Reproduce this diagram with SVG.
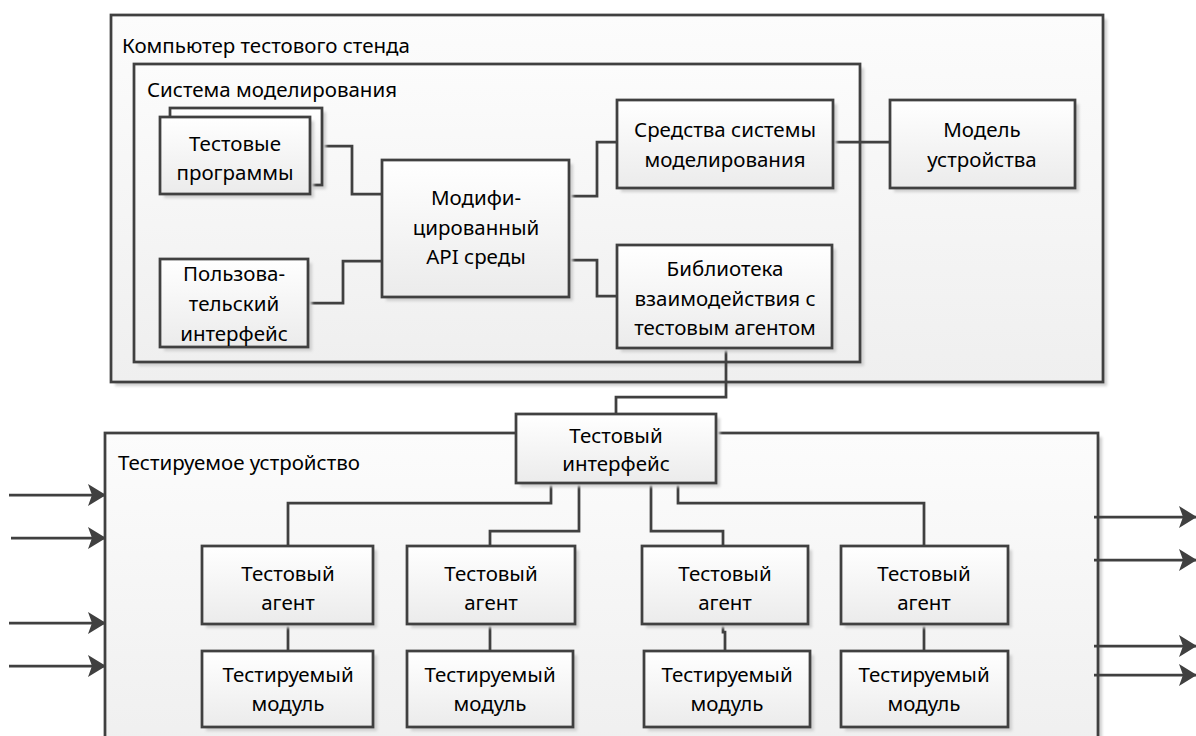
<svg xmlns="http://www.w3.org/2000/svg" width="1196" height="736" viewBox="0 0 1196 736">
  <style>
    .frame { fill: url(#frameFill); stroke: #404040; stroke-width: 2.75; }
    .node { fill: url(#nodeFill); stroke: #404040; stroke-width: 2.75; }
    .shadow { fill: #cfcfcf; filter: url(#soft); }
    .wire { fill: none; stroke: #404040; stroke-width: 2.75; }
    .arrow { fill: none; stroke: #404040; stroke-width: 2.75; marker-end: url(#head); }
    text { font-family: "Noto Sans", "Open Sans", sans-serif; font-size: 20.5px; fill: #000; }
    .c { text-anchor: middle; }
  </style>
  <defs>
    <linearGradient id="frameFill" x1="0" y1="0" x2="0" y2="1">
      <stop offset="0" stop-color="#fcfcfc"/>
      <stop offset="1" stop-color="#efefef"/>
    </linearGradient>
    <linearGradient id="nodeFill" x1="0" y1="0" x2="0" y2="1">
      <stop offset="0" stop-color="#ffffff"/>
      <stop offset="1" stop-color="#ebebeb"/>
    </linearGradient>
    <filter id="soft" x="-10%" y="-10%" width="120%" height="120%">
      <feGaussianBlur stdDeviation="1.5"/>
    </filter>
    <marker id="head" markerWidth="18" markerHeight="22" refX="17" refY="11" orient="auto" markerUnits="userSpaceOnUse">
      <path d="M0,0 L18,11 L0,22 L4,11 Z" fill="#404040"/>
    </marker>
  </defs>

  <!-- Host computer frame -->
  <g id="host">
    <rect class="shadow" x="115" y="19" width="992" height="367"/>
    <rect class="frame" x="111" y="15" width="992" height="367"/>
    <text x="122" y="53">Компьютер тестового стенда</text>
  </g>

  <!-- Simulation system frame -->
  <g id="sim">
    <rect class="shadow" x="138" y="68" width="726" height="298"/>
    <rect class="frame" x="134" y="64" width="726" height="298"/>
    <text x="147" y="97">Система моделирования</text>
  </g>

  <!-- Device under test frame -->
  <g id="dut">
    <rect class="shadow" x="109" y="437" width="993" height="320"/>
    <rect class="frame" x="105" y="433" width="993" height="320"/>
    <text x="118" y="470">Тестируемое устройство</text>
  </g>

  <!-- Connectors -->
  <g id="connectors">
    <path class="wire" d="M310,146 H352 V194 H382"/>
    <path class="wire" d="M308,303 H343 V261 H382"/>
    <path class="wire" d="M569,196 H597 V142 H617"/>
    <path class="wire" d="M569,260 H597 V296 H617"/>
    <path class="wire" d="M833,142 H890"/>
    <path class="wire" d="M726,348 V397 H616 V414"/>
    <path class="wire" d="M551,483 V503 H288 V546"/>
    <path class="wire" d="M579,483 V531 H490 V546"/>
    <path class="wire" d="M651,483 V531 H723 V546"/>
    <path class="wire" d="M678,483 V503 H924 V546"/>
    <path class="wire" d="M288,624 V651"/>
    <path class="wire" d="M490,624 V651"/>
    <path class="wire" d="M723,624 V632 H725 V651"/>
    <path class="wire" d="M924,624 V651"/>
    <path class="arrow" d="M9,495 H105"/>
    <path class="arrow" d="M11,538 H105"/>
    <path class="arrow" d="M9,623 H105"/>
    <path class="arrow" d="M9,666 H105"/>
    <path class="arrow" d="M1094,517 H1196"/>
    <path class="arrow" d="M1094,560 H1196"/>
    <path class="arrow" d="M1094,646 H1196"/>
    <path class="arrow" d="M1094,675 H1196"/>
  </g>

  <g id="test-programs">
    <rect class="shadow" x="174" y="112" width="152" height="77"/>
    <rect class="node" x="170" y="108" width="152" height="77"/>
    <rect class="shadow" x="164" y="121" width="150" height="77"/>
    <rect class="node" x="160" y="117" width="150" height="77"/>
    <text class="c" x="235" y="151">Тестовые</text>
    <text class="c" x="235" y="180">программы</text>
  </g>

  <g id="api">
    <rect class="shadow" x="386" y="164" width="187" height="137"/>
    <rect class="node" x="382" y="160" width="187" height="137"/>
    <text class="c" x="476" y="205">Модифи-</text>
    <text class="c" x="476" y="235">цированный</text>
    <text class="c" x="476" y="264">API среды</text>
  </g>

  <g id="sim-tools">
    <rect class="shadow" x="621" y="104" width="216" height="88"/>
    <rect class="node" x="617" y="100" width="216" height="88"/>
    <text class="c" x="725" y="137">Средства системы</text>
    <text class="c" x="725" y="167">моделирования</text>
  </g>

  <g id="device-model">
    <rect class="shadow" x="894" y="104" width="185" height="88"/>
    <rect class="node" x="890" y="100" width="185" height="88"/>
    <text class="c" x="982" y="137">Модель</text>
    <text class="c" x="982" y="167">устройства</text>
  </g>

  <g id="ui">
    <rect class="shadow" x="164" y="263" width="148" height="88"/>
    <rect class="node" x="160" y="259" width="148" height="88"/>
    <text class="c" x="234" y="281">Пользова-</text>
    <text class="c" x="234" y="311">тельский</text>
    <text class="c" x="234" y="341">интерфейс</text>
  </g>

  <g id="agent-lib">
    <rect class="shadow" x="621" y="249" width="215" height="103"/>
    <rect class="node" x="617" y="245" width="215" height="103"/>
    <text class="c" x="725" y="276">Библиотека</text>
    <text class="c" x="725" y="306">взаимодействия с</text>
    <text class="c" x="725" y="335">тестовым агентом</text>
  </g>

  <g id="test-interface">
    <rect class="shadow" x="520" y="418" width="200" height="69"/>
    <rect class="node" x="516" y="414" width="200" height="69"/>
    <text class="c" x="616" y="443">Тестовый</text>
    <text class="c" x="616" y="471">интерфейс</text>
  </g>

  <g id="agent-1">
    <rect class="shadow" x="206" y="550" width="171" height="78"/>
    <rect class="node" x="202" y="546" width="171" height="78"/>
    <text class="c" x="288" y="581">Тестовый</text>
    <text class="c" x="288" y="610">агент</text>
  </g>
  <g id="agent-2">
    <rect class="shadow" x="411" y="550" width="168" height="78"/>
    <rect class="node" x="407" y="546" width="168" height="78"/>
    <text class="c" x="491" y="581">Тестовый</text>
    <text class="c" x="491" y="610">агент</text>
  </g>
  <g id="agent-3">
    <rect class="shadow" x="646" y="550" width="166" height="78"/>
    <rect class="node" x="642" y="546" width="166" height="78"/>
    <text class="c" x="725" y="581">Тестовый</text>
    <text class="c" x="725" y="610">агент</text>
  </g>
  <g id="agent-4">
    <rect class="shadow" x="845" y="550" width="167" height="78"/>
    <rect class="node" x="841" y="546" width="167" height="78"/>
    <text class="c" x="924" y="581">Тестовый</text>
    <text class="c" x="924" y="610">агент</text>
  </g>

  <g id="module-1">
    <rect class="shadow" x="206" y="655" width="171" height="76"/>
    <rect class="node" x="202" y="651" width="171" height="76"/>
    <text class="c" x="288" y="682">Тестируемый</text>
    <text class="c" x="288" y="711">модуль</text>
  </g>
  <g id="module-2">
    <rect class="shadow" x="411" y="655" width="166" height="76"/>
    <rect class="node" x="407" y="651" width="166" height="76"/>
    <text class="c" x="490" y="682">Тестируемый</text>
    <text class="c" x="490" y="711">модуль</text>
  </g>
  <g id="module-3">
    <rect class="shadow" x="648" y="655" width="166" height="76"/>
    <rect class="node" x="644" y="651" width="166" height="76"/>
    <text class="c" x="727" y="682">Тестируемый</text>
    <text class="c" x="727" y="711">модуль</text>
  </g>
  <g id="module-4">
    <rect class="shadow" x="845" y="655" width="167" height="76"/>
    <rect class="node" x="841" y="651" width="167" height="76"/>
    <text class="c" x="924" y="682">Тестируемый</text>
    <text class="c" x="924" y="711">модуль</text>
  </g>
</svg>
